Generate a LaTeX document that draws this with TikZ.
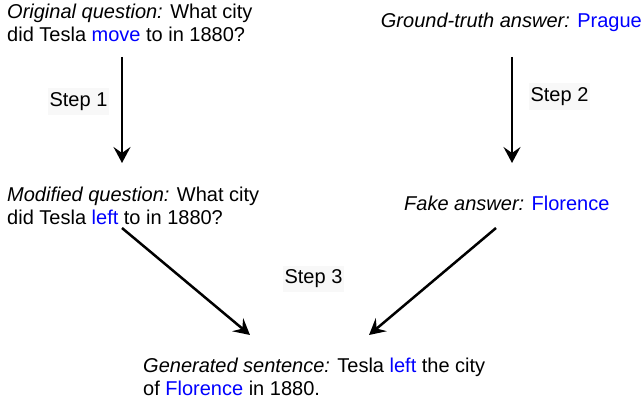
\documentclass[tikz,border=0pt]{standalone}
\usepackage{fontspec}
\setmainfont{Liberation Sans}
\usetikzlibrary{arrows.meta,calc}
\definecolor{hl}{RGB}{0,0,255}
\definecolor{stepbg}{RGB}{248,248,248}
\begin{document}
\begin{tikzpicture}[x=1pt,y=-1pt,
  txt/.style={inner sep=0pt,align=left,font=\fontsize{20}{23}\selectfont},
  steplabel/.style={inner xsep=1.5pt,inner ysep=4pt,fill=stepbg,font=\fontsize{20}{23}\selectfont},
  arr/.style={line width=2.5pt,-{Stealth[length=16pt,width=17pt,inset=6pt]}}]
\useasboundingbox (0,0) rectangle (644,403);
\node[txt,anchor=base west] (orig) at (7,42) {\textit{Original question:} What city\\did Tesla \textcolor{hl}{move} to in 1880?};
\node[txt,anchor=base east] (gt) at (642,28) {\textit{Ground-truth answer:} \textcolor{hl}{Prague}};
\node[txt,anchor=base west] (mod) at (7,224) {\textit{Modified question:} What city\\did Tesla \textcolor{hl}{left} to in 1880?};
\node[txt,anchor=base west] (fake) at (404,211) {\textit{Fake answer:} \textcolor{hl}{Florence}};
\node[txt,anchor=base west] (gen) at (143,395) {\textit{Generated sentence:} Tesla \textcolor{hl}{left} the city\\of \textcolor{hl}{Florence} in 1880.};
\node[steplabel] (s1) at (78.5,101.5) {Step 1};
\node[steplabel] (s2) at (559.5,96.5) {Step 2};
\node[steplabel] (s3) at (313.5,279) {Step 3};
\draw[arr] ($(orig.base west)+(115,15)$) -- ($(mod.base west)+(115,-61)$);
\draw[arr] ($(gt.base east)+(-130,29)$) -- ($(fake.base west)+(108,-48)$);
\draw[arr] ($(mod.base west)+(115,4)$) -- ($(gen.base west)+(107,-60)$);
\draw[arr] ($(fake.base west)+(92,17)$) -- ($(gen.base west)+(226,-60)$);
\end{tikzpicture}
\end{document}
